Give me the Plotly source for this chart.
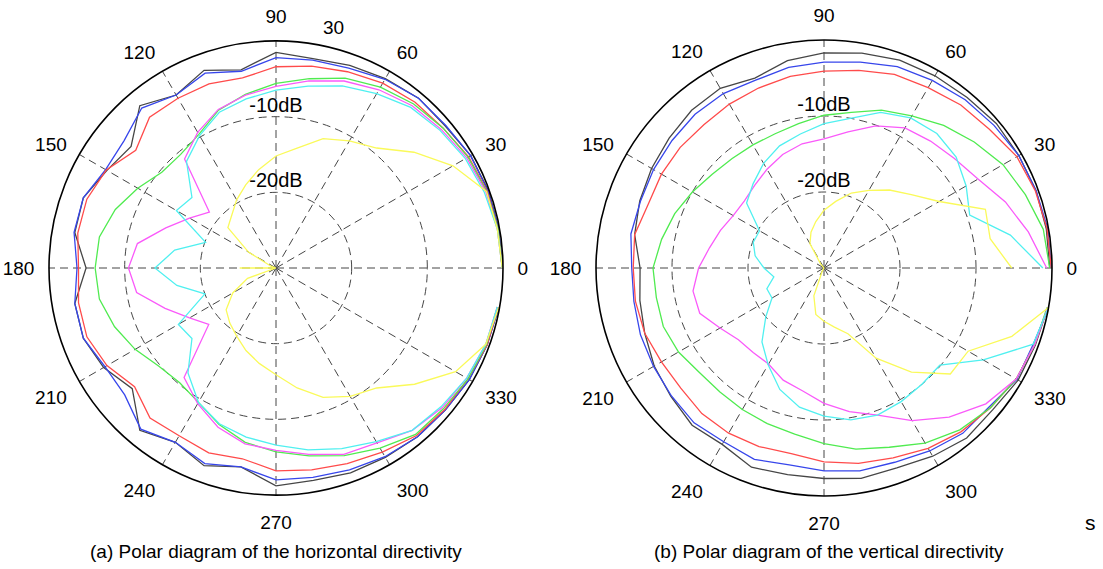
import plotly.graph_objects as go

angles = list(range(0, 360, 10))
tick_angles = list(range(0, 360, 30))
tick_labels = [str(a) for a in tick_angles]
ring_db = [-20, -10]
ring_labels = ["-20dB", "-10dB"]

# ---- (a) horizontal directivity, dB, theta = 0..350 step 10 ----
h_black = [-0.1, -0.1, -0.1, -0.3, -0.8, -0.7, -1.1, -1.5, -1.9, -1.5, -3.4, -2.2, -3.6, -2.0, -5.0, -4.2, -2.9, -3.0,
           -4.9, -3.0, -2.9, -3.7, -5.2, -2.0, -3.4, -2.2, -3.3, -1.2, -1.5, -1.2, -1.1, -0.9, -0.8, -0.5, -0.3, -0.1]
h_blue = [-0.1, -0.1, -0.2, -0.3, -0.7, -0.7, -1.2, -1.9, -2.1, -2.2, -3.6, -2.6, -3.6, -2.4, -3.8, -4.0, -2.9, -2.9,
          -3.7, -3.0, -2.9, -3.9, -3.9, -2.2, -3.4, -2.5, -3.3, -2.0, -1.9, -1.6, -1.2, -0.9, -0.8, -0.5, -0.3, -0.1]
h_red = [-0.1, -0.2, -0.3, -0.6, -1.2, -1.4, -1.8, -2.4, -2.9, -3.4, -4.5, -4.1, -4.1, -4.0, -5.8, -4.1, -3.4, -3.4,
         -3.9, -3.5, -3.4, -4.2, -5.6, -4.1, -4.4, -4.0, -4.4, -3.2, -2.9, -2.5, -1.9, -1.1, -0.9, -0.7, -0.3, -0.2]
h_green = [-0.1, -0.2, -0.4, -0.7, -1.2, -1.7, -2.4, -3.3, -4.6, -5.6, -6.7, -7.8, -9.6, -10.4, -10.3, -8.9, -7.4, -6.3,
           -6.1, -6.3, -7.3, -8.5, -9.8, -10.2, -9.5, -8.0, -6.6, -5.7, -4.8, -3.6, -2.5, -1.3, -1.1, -0.7, -0.4, -0.3]
h_magenta = [-0.1, -0.3, -0.5, -0.9, -1.5, -2.0, -2.8, -3.7, -4.9, -6.0, -6.8, -7.7, -9.3, -11.2, -18.5, -16.8, -14.5, -11.4,
             -10.5, -11.3, -14.4, -16.8, -18.4, -11.1, -9.3, -7.6, -6.4, -5.9, -5.0, -3.8, -3.3, -2.0, -1.3, -0.9, -0.5, -0.3]
h_cyan = [-0.1, -0.3, -0.7, -1.1, -1.7, -2.3, -3.4, -4.4, -5.6, -6.5, -7.3, -8.1, -9.8, -11.6, -15.5, -14.8, -20.1, -16.4,
          -14.0, -16.7, -20.0, -15.1, -15.5, -11.9, -9.5, -8.1, -7.3, -6.6, -5.6, -4.6, -3.5, -2.0, -1.5, -0.9, -0.5, -0.3]
h_yellow = [-0.1, -0.3, -0.4, -3.0, -6.2, -9.3, -10.6, -11.8, -13.9, -15.2, -16.8, -18.3, -19.6, -20.9, -21.7, -25.8, -29.3, -30.0,
            -25.2, -30.0, -26.0, -23.4, -21.4, -20.5, -19.6, -18.4, -17.2, -15.9, -13.9, -11.8, -10.4, -9.3, -6.1, -2.6, -0.5, -0.1]

# ---- (b) vertical directivity ----
v_black = [-0.3, -0.3, -0.3, -0.4, -0.4, -0.7, -0.8, -0.9, -1.3, -1.7, -2.3, -3.4, -2.7, -2.9, -3.4, -3.8, -4.2, -4.7,
           -5.8, -5.4, -4.9, -4.2, -3.7, -3.0, -3.2, -2.1, -2.4, -2.3, -1.9, -2.0, -1.4, -0.8, -1.0, -0.5, -0.4, -0.1]
v_blue = [-0.1, -0.1, -0.3, -0.4, -0.8, -1.1, -1.5, -1.8, -2.5, -2.9, -3.2, -3.7, -3.5, -3.6, -3.9, -4.1, -4.3, -4.2,
          -4.7, -4.6, -4.3, -4.1, -3.8, -3.4, -3.6, -3.2, -3.7, -3.3, -2.9, -2.8, -2.2, -1.6, -1.6, -0.7, -0.7, -0.0]
v_red = [-0.1, -0.2, -0.4, -0.7, -1.6, -2.0, -2.6, -2.9, -3.6, -4.1, -4.4, -4.8, -5.1, -5.4, -5.3, -5.3, -5.4, -4.7,
         -4.9, -4.8, -4.9, -5.3, -5.4, -5.0, -4.9, -5.0, -5.2, -4.5, -3.9, -3.4, -2.6, -1.9, -1.4, -0.8, -0.5, -0.1]
v_green = [-0.3, -0.7, -1.8, -2.8, -4.2, -5.5, -6.9, -7.9, -9.2, -9.9, -10.7, -11.2, -11.3, -11.2, -10.8, -10.0, -9.1, -8.3,
           -7.5, -7.6, -7.5, -7.9, -8.6, -8.7, -8.5, -8.2, -7.8, -6.9, -5.8, -4.9, -3.4, -2.2, -1.4, -0.8, -0.5, -0.2]
v_magenta = [-0.7, -2.7, -4.6, -6.6, -7.6, -8.2, -8.7, -10.1, -11.8, -13.0, -13.4, -14.1, -15.0, -15.8, -16.3, -16.2, -15.5, -14.7,
             -13.5, -12.5, -12.6, -14.2, -15.3, -15.5, -15.4, -14.3, -13.6, -12.2, -10.8, -9.4, -6.8, -4.4, -2.2, -0.8, -0.5, -0.1]
v_cyan = [-1.2, -5.1, -9.6, -8.4, -7.3, -6.9, -7.2, -8.2, -10.0, -11.0, -12.1, -12.9, -14.1, -15.5, -16.7, -20.2, -20.1, -20.8,
          -22.1, -23.3, -22.0, -22.1, -20.0, -17.3, -15.3, -13.0, -11.4, -10.5, -9.7, -9.4, -9.7, -10.0, -10.1, -5.8, -0.7, -0.0]
v_yellow = [-5.3, -7.8, -7.4, -12.5, -15.0, -16.6, -18.2, -19.5, -21.1, -22.4, -23.8, -25.0, -26.3, -29.3, -30.0, -30.0, -30.0, -30.0,
            -30.0, -30.0, -30.0, -30.0, -30.0, -30.0, -29.6, -26.1, -23.8, -23.0, -22.1, -20.8, -16.3, -12.1, -8.3, -8.1, -3.7, -0.0]

series_names = ["black", "blue", "red", "green", "magenta", "cyan", "yellow"]
series_colors = ["rgb(70,70,70)", "rgb(55,70,235)", "rgb(255,75,75)", "rgb(80,235,80)",
                 "rgb(250,90,250)", "rgb(80,240,240)", "rgb(250,250,90)"]
h_series = [h_black, h_blue, h_red, h_green, h_magenta, h_cyan, h_yellow]
v_series = [v_black, v_blue, v_red, v_green, v_magenta, v_cyan, v_yellow]

FONT = "Liberation Sans, Arial, Helvetica, sans-serif"
fig = go.Figure()

for sub, data in (("polar", h_series), ("polar2", v_series)):
    for name, vals, col in zip(series_names, data, series_colors):
        fig.add_trace(go.Scatterpolar(r=vals, theta=angles, mode="lines", name=name,
                                      line=dict(color=col, width=1.3),
                                      subplot=sub, showlegend=False, hoverinfo="skip"))
    fig.add_trace(go.Scatterpolar(r=ring_db, theta=[90, 90], mode="text", text=ring_labels,
                                  textposition="top center",
                                  textfont=dict(family=FONT, size=20, color="black"),
                                  subplot=sub, showlegend=False, hoverinfo="skip"))

GRID = "rgb(70,70,70)"
DASH = "8px,5px"

def polar_layout(xdom, ydom):
    return dict(
        domain=dict(x=xdom, y=ydom),
        bgcolor="white",
        radialaxis=dict(range=[-30, 0], tickmode="array", tickvals=ring_db,
                        showticklabels=False, ticks="", showline=False,
                        showgrid=True, gridcolor=GRID, gridwidth=1.2, griddash=DASH),
        angularaxis=dict(tickmode="array", tickvals=tick_angles, ticktext=tick_labels,
                         direction="counterclockwise", rotation=0,
                         showline=True, linecolor="black", linewidth=1.6,
                         showgrid=True, gridcolor=GRID, gridwidth=1.2, griddash=DASH,
                         ticks="outside", ticklen=10, tickcolor="rgba(0,0,0,0)",
                         tickfont=dict(family=FONT, size=19, color="black")),
    )

fig.update_layout(
    width=1103, height=569,
    margin=dict(l=0, r=0, t=0, b=0),
    paper_bgcolor="white",
    showlegend=False,
    polar=polar_layout([49 / 1103, 503 / 1103], [74 / 569, 528 / 569]),
    polar2=polar_layout([596 / 1103, 1052 / 1103], [73 / 569, 529 / 569]),
    annotations=[
        dict(text="(a) Polar diagram of the horizontal directivity", x=275.5 / 1103, y=18 / 569,
             xref="paper", yref="paper", showarrow=False, xanchor="center", yanchor="middle",
             font=dict(family=FONT, size=19, color="black")),
        dict(text="(b) Polar diagram of the vertical directivity", x=829 / 1103, y=18 / 569,
             xref="paper", yref="paper", showarrow=False, xanchor="center", yanchor="middle",
             font=dict(family=FONT, size=19, color="black")),
        dict(text="30", x=333 / 1103, y=(569 - 28) / 569, xref="paper", yref="paper",
             showarrow=False, xanchor="center", yanchor="middle",
             font=dict(family=FONT, size=19, color="black")),
        dict(text="s", x=1090 / 1103, y=(569 - 522) / 569, xref="paper", yref="paper",
             showarrow=False, xanchor="center", yanchor="middle",
             font=dict(family=FONT, size=21, color="black")),
    ],
)

fig.write_html("out.html")
